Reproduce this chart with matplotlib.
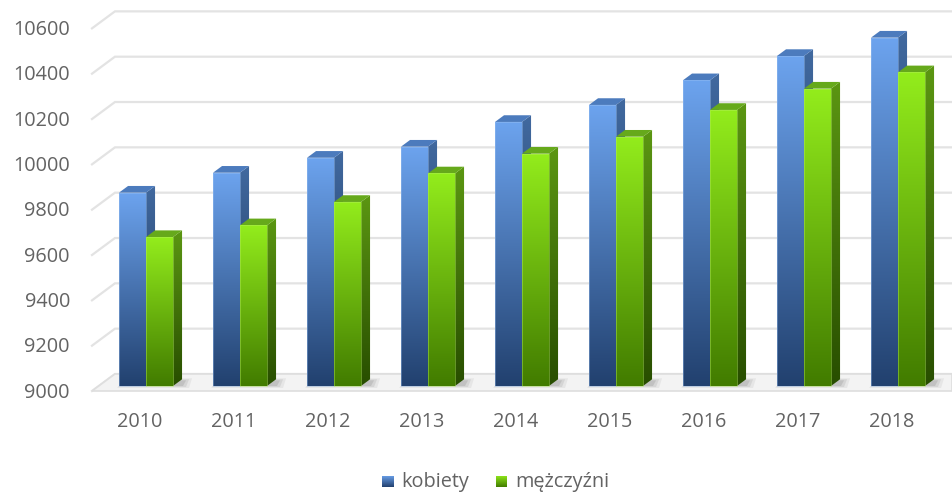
import numpy as np
import matplotlib.pyplot as plt
from matplotlib.patches import Polygon, Rectangle
from matplotlib.colors import to_rgb

years = ['2010', '2011', '2012', '2013', '2014', '2015', '2016', '2017', '2018']
kobiety = [9853, 9941, 10007, 10056, 10165, 10240, 10349, 10456, 10537]
mezczyzni = [9657, 9709, 9812, 9938, 10025, 10100, 10218, 10312, 10384]
y_ticks = [9000, 9200, 9400, 9600, 9800, 10000, 10200, 10400, 10600]
series_names = ['kobiety', 'mężczyźni']

plt.rcParams['font.family'] = ['Open Sans', 'DejaVu Sans']

W, H = 952, 493
fig = plt.figure(figsize=(W / 100, H / 100), dpi=100)
ax = fig.add_axes([0, 0, 1, 1])
ax.axis('off')

# skala: piksele na kategorię i na jednostkę wartości
PX_X = 94.0
PX_Y = 45.33 / 200
X0 = 146      # piksel środka kategorii 0
BASE = 386    # piksel wartości 9000 (przednia ściana słupków)
VMIN = 9000
xlim = (-X0 / PX_X, (W - X0) / PX_X)
ylim = (VMIN - (H - BASE) / PX_Y, VMIN + BASE / PX_Y)


def px(d):
    return d / PX_X


def py(d):
    return d / PX_Y


def dep(d):
    # przesunięcie "w głąb" (w prawo i w górę)
    return px(1.35 * d), py(d)


def grad_fill(poly_xy, c_top, c_bot, z):
    xs = [p[0] for p in poly_xy]
    ys = [p[1] for p in poly_xy]
    t = np.linspace(0, 1, 64)[:, None]
    ct, cb = np.array(to_rgb(c_top)), np.array(to_rgb(c_bot))
    img = (cb + (ct - cb) * t)[:, None, :]
    im = ax.imshow(img, extent=(min(xs), max(xs), min(ys), max(ys)), origin='lower',
                   aspect='auto', interpolation='bilinear', zorder=z)
    pg = Polygon(poly_xy, closed=True, facecolor='none', edgecolor='none', zorder=z)
    ax.add_patch(pg)
    im.set_clip_path(pg)


colors = {
    'kobiety': dict(ft='#6ca3ee', fb='#22416f', st='#41699f', sb='#182e52', top='#4c7bbd', edge='#9cc2f2'),
    'mężczyźni': dict(ft='#93ec1c', fb='#427c00', st='#5b9612', sb='#284e00', top='#66a91b', edge='#b5f060'),
}

# siatka i ściana tylna
floor_x = px(92 - X0)
back_d = 12
front_d = -5
for v in y_ticks:
    yf = v + py(front_d)
    yb = v + py(back_d)
    xb = floor_x + px(1.35 * (back_d - front_d))
    ax.plot([floor_x, xb, xlim[1]], [yf, yb, yb], color='#e3e3e3', lw=1.6, zorder=1,
            solid_joinstyle='miter')
    ax.text(px(70 - X0), yf - py(1.5), str(v), ha='right', va='center',
            fontsize=14.3, color='#636363')

# podłoga
xb = floor_x + px(1.35 * (back_d - front_d))
floor = Polygon([(floor_x, VMIN + py(front_d)), (xb, VMIN + py(back_d)),
                 (xlim[1], VMIN + py(back_d)), (xlim[1], VMIN + py(front_d))],
                closed=True, facecolor='#f3f3f3', edgecolor='#dedede', lw=1.2, zorder=1.5)
ax.add_patch(floor)

bw = px(27)
bd = 6.7
ddx, ddy = dep(bd)
for i, yr in enumerate(years):
    # cień na podłodze
    for k, a in enumerate([0.05, 0.07, 0.09]):
        sx0 = i - bw + px(2) - px(4 - k)
        sx1 = i + bw + ddx + px(10 - 3 * k)
        shadow = Polygon([(sx0, VMIN + py(-2 + k)), (sx0 + ddx, VMIN + py(bd + 1 - k)),
                          (sx1, VMIN + py(bd + 1 - k)), (sx1 - px(3), VMIN + py(-2 + k))],
                         closed=True, facecolor='black', edgecolor='none', alpha=a, zorder=1.8)
        ax.add_patch(shadow)
    for j, (name, vals) in enumerate(zip(series_names, [kobiety, mezczyzni])):
        c = colors[name]
        v = vals[i]
        x0 = i - bw + j * bw
        x1 = x0 + bw
        z = 2 + i * 0.1 + j * 0.05
        # boczna ściana
        grad_fill([(x1, VMIN), (x1 + ddx, VMIN + ddy), (x1 + ddx, v + ddy), (x1, v)],
                  c['st'], c['sb'], z)
        # góra
        ax.add_patch(Polygon([(x0, v), (x0 + ddx, v + ddy), (x1 + ddx, v + ddy), (x1, v)],
                             closed=True, facecolor=c['top'], edgecolor='none', zorder=z))
        # przód
        grad_fill([(x0, VMIN), (x0, v), (x1, v), (x1, VMIN)], c['ft'], c['fb'], z + 0.01)
        ax.add_patch(Rectangle((x0, VMIN), bw, v - VMIN, facecolor='none',
                               edgecolor=c['edge'], lw=0.5, alpha=0.6, zorder=z + 0.02))
    ax.text(i + px(-6), VMIN - py(36.5), yr, ha='center', va='center',
            fontsize=14.3, color='#636363')

# legenda
leg_y = 482
for name, sq_x, tx in [('kobiety', 382, 401), ('mężczyźni', 496, 515)]:
    c = colors[name]
    sx0 = xlim[0] + px(sq_x)
    sx1 = sx0 + px(11.5)
    sy0 = VMIN + py(BASE - (leg_y + 5.5))
    sy1 = sy0 + py(11.5)
    grad_fill([(sx0, sy0), (sx0, sy1), (sx1, sy1), (sx1, sy0)], c['ft'], c['fb'], 5)
    ax.text(xlim[0] + px(tx), VMIN + py(BASE - leg_y), name, ha='left', va='center',
            fontsize=14.3, color='#636363')

ax.set_xlim(*xlim)
ax.set_ylim(*ylim)
fig.savefig('out.png', dpi=100)
